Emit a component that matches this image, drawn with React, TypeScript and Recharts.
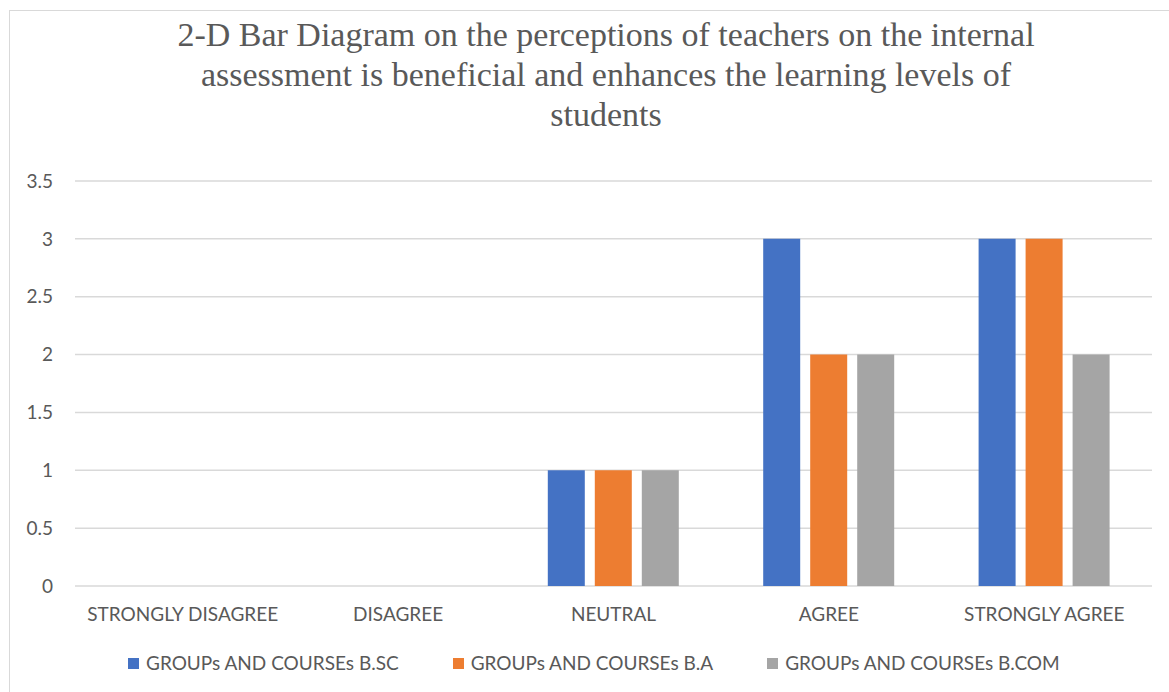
import React from "react";
import { BarChart, Bar, XAxis, YAxis, CartesianGrid } from "recharts";

const categories = ["STRONGLY DISAGREE", "DISAGREE", "NEUTRAL", "AGREE", "STRONGLY AGREE"];
const bsc = [0, 0, 1, 3, 3];
const ba = [0, 0, 1, 2, 3];
const bcom = [0, 0, 1, 2, 2];
const yTicks = [0, 0.5, 1, 1.5, 2, 2.5, 3, 3.5];

const seriesNames = [
  "GROUPs AND COURSEs B.SC",
  "GROUPs AND COURSEs B.A",
  "GROUPs AND COURSEs B.COM",
];
const COLORS = ["#4472C4", "#ED7D31", "#A5A5A5"];

const titleLines = [
  "2-D Bar Diagram on the perceptions of teachers on the internal",
  "assessment is beneficial and enhances the learning levels of",
  "students",
];

const data = categories.map((c, i) => ({
  name: c,
  bsc: bsc[i],
  ba: ba[i],
  bcom: bcom[i],
}));

const FONT = "Lato, 'Open Sans', sans-serif";

export default function App() {
  return (
    <div style={{ position: "absolute", left: 0, top: 0, width: 1169, height: 692, background: "#fff", overflow: "hidden" }}>
      <div style={{ position: "absolute", left: 9, top: 10, width: 1200, height: 700, border: "1px solid #d9d9d9" }} />
      <div
        style={{
          position: "absolute",
          left: 6,
          top: 15,
          width: 1200,
          textAlign: "center",
          fontFamily: "'Liberation Serif', 'Times New Roman', serif",
          fontSize: 34,
          lineHeight: "40px",
          color: "#595959",
        }}
      >
        {titleLines.map((l) => (
          <div key={l}>{l}</div>
        ))}
      </div>
      <BarChart
        width={1169}
        height={692}
        data={data}
        margin={{ top: 181, right: 17, bottom: 76, left: 15 }}
        barSize={37}
        barGap={10}
        style={{ position: "absolute", left: 0, top: 0 }}
      >
        <CartesianGrid vertical={false} stroke="#d9d9d9" strokeWidth={1.5} />
        <XAxis
          dataKey="name"
          height={30}
          axisLine={false}
          tickLine={false}
          tickSize={0}
          tickMargin={22}
          tick={{ fill: "#595959", fontSize: 19, fontFamily: FONT }}
          interval={0}
        />
        <YAxis
          width={60}
          domain={[0, 3.5]}
          ticks={yTicks}
          axisLine={false}
          tickLine={false}
          tickSize={0}
          tickMargin={22}
          tick={{ fill: "#595959", fontSize: 19, fontFamily: FONT }}
        />
        <Bar dataKey="bsc" name={seriesNames[0]} fill={COLORS[0]} isAnimationActive={false} />
        <Bar dataKey="ba" name={seriesNames[1]} fill={COLORS[1]} isAnimationActive={false} />
        <Bar dataKey="bcom" name={seriesNames[2]} fill={COLORS[2]} isAnimationActive={false} />
      </BarChart>
      <div
        style={{
          position: "absolute",
          left: 128,
          top: 651,
          display: "flex",
          gap: 54,
          fontFamily: FONT,
          fontSize: 19,
          lineHeight: "24px",
          color: "#595959",
        }}
      >
        {seriesNames.map((n, i) => (
          <div key={n} style={{ display: "flex", alignItems: "center" }}>
            <span style={{ width: 11, height: 11, background: COLORS[i], marginRight: 7, display: "inline-block" }} />
            <span>{n}</span>
          </div>
        ))}
      </div>
    </div>
  );
}
